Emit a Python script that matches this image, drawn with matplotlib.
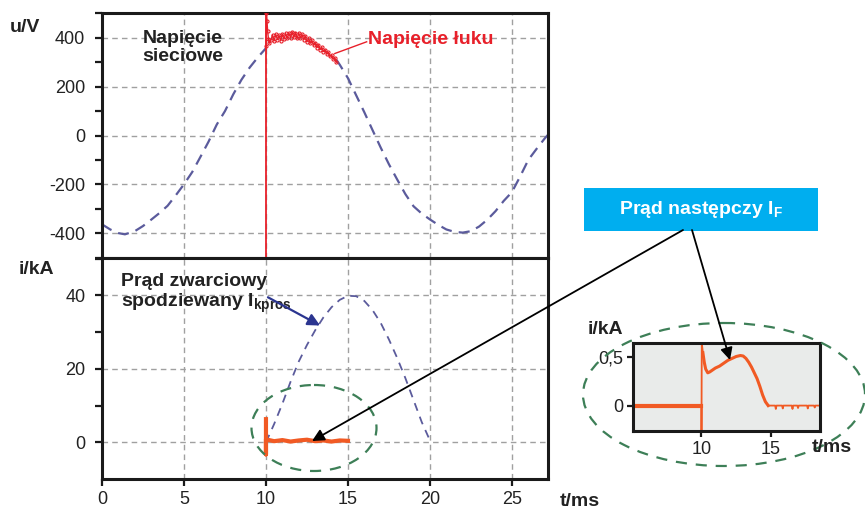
import numpy as np
import matplotlib
matplotlib.use("Agg")
import matplotlib.pyplot as plt
from matplotlib.patches import Ellipse, Rectangle

plt.rcParams['font.family'] = ['Liberation Sans', 'DejaVu Sans']
plt.rcParams['mathtext.fontset'] = 'custom'
plt.rcParams['mathtext.rm'] = 'Liberation Sans'
plt.rcParams['mathtext.bf'] = 'Liberation Sans:bold'
plt.rcParams['axes.unicode_minus'] = False

# network voltage (dashed), t in ms, u in V
t_net1 = [0, 0.5, 1.0, 1.4, 2.0, 2.5, 3.0, 3.5, 4.0, 4.5, 5.0, 5.5, 6.0, 6.5,
          7.0, 7.5, 8.0, 8.5, 9.0, 9.5, 10.0]
u_net1 = [-364, -385, -400, -405, -392, -371, -345, -318, -288, -245, -200,
          -150, -88, -25, 45, 100, 168, 228, 278, 320, 358]
t_net2 = [14.3, 14.5, 15.0, 15.5, 16.0, 16.5, 17.0, 17.5, 18.0, 18.5, 19.0,
          19.5, 20.0, 20.5, 21.0, 21.5, 22.0, 22.5, 23.0, 23.5, 24.0, 24.5,
          25.0, 25.5, 26.0, 26.5, 27.0, 27.2]
u_net2 = [310, 290, 235, 165, 95, 22, -50, -118, -180, -240, -290, -320,
          -344, -366, -385, -395, -398, -392, -373, -345, -310, -268, -232,
          -168, -100, -55, -12, 3]

# arc voltage
t_arc = [10.0, 10.03, 10.06, 10.1, 10.15, 10.2, 10.3, 10.4, 10.5, 10.6, 10.7,
         10.8, 10.9, 11.0, 11.1, 11.2, 11.3, 11.4, 11.5, 11.6, 11.7, 11.8,
         11.9, 12.0, 12.1, 12.2, 12.3, 12.4, 12.5, 12.6, 12.7, 12.8, 12.9,
         13.0, 13.1, 13.2, 13.3, 13.4, 13.5, 13.6, 13.7, 13.8, 13.9, 14.0,
         14.1, 14.2, 14.3]
u_arc = [365, 500, 470, 430, 395, 378, 390, 412, 388, 414, 393, 410, 389, 415,
         395, 418, 398, 420, 400, 424, 402, 422, 398, 420, 400, 414, 392, 408,
         384, 398, 378, 390, 370, 381, 360, 372, 352, 362, 344, 352, 334, 341,
         324, 330, 313, 318, 300]

# prospective short-circuit current, kA
t_pros = [10, 10.5, 11, 11.5, 12, 12.5, 13, 13.5, 14, 14.5, 15, 15.5, 16,
          16.5, 17, 17.5, 18, 18.5, 19, 19.5, 20]
i_pros = [0, 5, 10.5, 16.5, 22, 26.5, 30.5, 34, 36.8, 38.8, 39.9, 39.8, 38.5,
          36, 32.5, 28, 23, 17.5, 11.5, 5.5, 0.5]

# actual let-through current, kA
t_act = [10, 10, 10, 10.5, 11, 11.5, 12, 12.5, 13, 13.5, 14, 14.5, 15]
i_act = [6.3, -3.3, 0.8, 0.3, 0.6, 0.2, 0.5, 0.7, 0.3, 0.5, 0.2, 0.5, 0.4]

# follow current (inset), kA
t_if_pre = [5.07, 10.0]
i_if_pre = [0, 0]
t_if_spk = [10.0, 10.0, 10.02, 10.1]
i_if_spk = [0, -0.26, 0.65, 0.55]
t_if = [10.1, 10.2, 10.3, 10.45, 10.6, 10.8, 11.0, 11.3, 11.6, 11.9, 12.2,
        12.5, 12.8, 13.0, 13.2, 13.4, 13.6, 13.8, 14.0, 14.2, 14.4, 14.6, 14.8]
i_if = [0.55, 0.45, 0.38, 0.34, 0.35, 0.37, 0.39, 0.41, 0.44, 0.47, 0.49,
        0.51, 0.52, 0.515, 0.49, 0.45, 0.40, 0.34, 0.28, 0.20, 0.11, 0.04, 0.0]
t_if_tail = [14.8, 15.3, 15.35, 15.4, 15.8, 15.85, 15.9, 16.5, 16.55, 16.6,
             16.9, 16.95, 17.0, 17.6, 17.65, 17.7, 18.1, 18.15, 18.2, 18.5]
i_if_tail = [0.0, 0.0, -0.035, 0.0, 0.0, -0.03, 0.0, 0.0, -0.035, 0.0,
             0.0, -0.025, 0.0, 0.0, -0.03, 0.0, 0.0, -0.02, 0.0, 0.0]

x_ticks = [0, 5, 10, 15, 20, 25]
u_ticks = [-400, -200, 0, 200, 400]
i_ticks = [0, 20, 40]

BLUE = '#5b5b9c'
RED = '#e8202a'
ORANGE = '#f15a24'
GREEN = '#3d7f57'
GRIDC = '#a0a0a0'
TXT = '#222222'

fig = plt.figure(figsize=(8.65, 5.12), dpi=100)
W, H = 865, 512


def axpos(l, t, r, b):
    return [l / W, 1 - b / H, (r - l) / W, (b - t) / H]


def style(ax, lw=2.2):
    for s in ax.spines.values():
        s.set_linewidth(lw)
        s.set_color('#1a1a1a')
    ax.tick_params(direction='out', length=5, width=1.6, colors='#1a1a1a',
                   labelcolor=TXT, labelsize=13)
    ax.tick_params(which='minor', direction='out', length=5, width=1.6,
                   colors='#1a1a1a')


ax1 = fig.add_axes(axpos(102, 13, 548, 258))
ax2 = fig.add_axes(axpos(102, 258, 548, 479))

# top panel: voltages
ax1.plot(t_net1, u_net1, color=BLUE, lw=1.6, dashes=(5, 3.2))
ax1.plot(t_net2, u_net2, color=BLUE, lw=1.6, dashes=(5, 3.2))
ax1.vlines(10.0, -500, 500, color=RED, lw=1.3, zorder=4)
ax1.plot(t_arc, u_arc, color=RED, lw=1.0, marker='o', ms=2.2, mfc='none',
         mew=0.8, zorder=5)
ax1.set_xlim(0, 27.2)
ax1.set_ylim(-502, 502)
ax1.set_yticks(u_ticks)
ax1.set_yticks([-500, -300, -100, 100, 300, 500], minor=True)
ax1.set_xticks(x_ticks)
ax1.tick_params(axis='x', bottom=False, labelbottom=False)
ax1.grid(True, color=GRIDC, lw=1.0, ls=(0, (4, 3)))
style(ax1)
ax1.tick_params(axis='y', pad=7)
ax1.text(4.95, 360, 'Napięcie\nsieciowe', ha='center', va='center',
         fontsize=14, fontweight='bold', color=TXT, linespacing=1.05)
ax1.plot([14.2, 16.14], [336, 384], color=RED, lw=1.0)
ax1.text(16.2, 393, 'Napięcie łuku', ha='left', va='center', fontsize=14,
         fontweight='bold', color=RED)

# bottom panel: currents
ax2.plot(t_pros, i_pros, color=BLUE, lw=1.3, dashes=(4.5, 3.5))
ax2.plot(t_act, i_act, color=ORANGE, lw=3, zorder=4)
ax2.set_xlim(0, 27.2)
ax2.set_ylim(-10, 50.2)
ax2.set_xticks(x_ticks)
ax2.set_yticks(i_ticks)
ax2.set_yticks([10, 30, 50], minor=True)
ax2.grid(True, color=GRIDC, lw=1.0, ls=(0, (4, 3)))
style(ax2)
ax2.tick_params(axis='y', pad=7)
ax2.tick_params(axis='x', pad=4)
ax2.text(1.16, 40.3, 'Prąd zwarciowy\nspodziewany $\\mathbf{I_{kpros}}$',
         ha='left', va='center', fontsize=14, fontweight='bold', color=TXT,
         linespacing=1.1)
ax2.annotate('', xy=(13.3, 31.8), xytext=(10.12, 39.5),
             arrowprops=dict(arrowstyle='-|>', color='#2b3590', lw=1.6,
                             mutation_scale=18, shrinkA=0, shrinkB=0))

# inset: follow current
ax3 = fig.add_axes(axpos(633, 343, 820, 431))
ax3.set_facecolor('#e9ebea')
ax3.plot(t_if_pre, i_if_pre, color=ORANGE, lw=3)
ax3.plot(t_if_spk, i_if_spk, color=ORANGE, lw=1.3)
ax3.plot(t_if, i_if, color=ORANGE, lw=2.2)
ax3.plot(t_if_tail, i_if_tail, color=ORANGE, lw=1.3)
ax3.set_xlim(5.07, 18.53)
ax3.set_ylim(-0.264, 0.65)
ax3.set_xticks([10, 15])
ax3.set_yticks([0, 0.5])
ax3.set_yticklabels(['0', '0,5'])
style(ax3)
ax3.tick_params(length=4, pad=3)

# overlay in pixel coordinates for annotations
ov = fig.add_axes([0, 0, 1, 1], zorder=10)
ov.set_xlim(0, W)
ov.set_ylim(H, 0)
ov.axis('off')
ov.patch.set_alpha(0)

ov.text(25, 27, 'u/V', ha='center', va='center', fontsize=14,
        fontweight='bold', color=TXT)
ov.text(36, 270, 'i/kA', ha='center', va='center', fontsize=14,
        fontweight='bold', color=TXT)
ov.text(580, 501, 't/ms', ha='center', va='center', fontsize=14,
        fontweight='bold', color=TXT)
ov.text(605, 330, 'i/kA', ha='center', va='center', fontsize=14,
        fontweight='bold', color=TXT)
ov.text(832, 447, 't/ms', ha='center', va='center', fontsize=14,
        fontweight='bold', color=TXT)

ov.add_patch(Ellipse((314, 428), 125, 86, fill=False, ec=GREEN, lw=1.6,
                     ls=(0, (5, 4))))
ov.add_patch(Ellipse((724, 394.5), 282, 143, fill=False, ec=GREEN, lw=1.6,
                     ls=(0, (5, 4))))

ov.add_patch(Rectangle((584, 188), 234, 43, fc='#00aeef', ec='none'))
ov.text(701, 209.5, 'Prąd następczy $\\mathbf{I_F}$', ha='center',
        va='center', fontsize=14, fontweight='bold', color='white')

ov.annotate('', xy=(312, 441), xytext=(683, 230),
            arrowprops=dict(arrowstyle='-|>', color='black', lw=1.3,
                            mutation_scale=18, shrinkA=0, shrinkB=0))
ov.annotate('', xy=(730, 360), xytext=(692, 230),
            arrowprops=dict(arrowstyle='-|>', color='black', lw=1.3,
                            mutation_scale=18, shrinkA=0, shrinkB=0))

fig.savefig('out.png', dpi=100)
